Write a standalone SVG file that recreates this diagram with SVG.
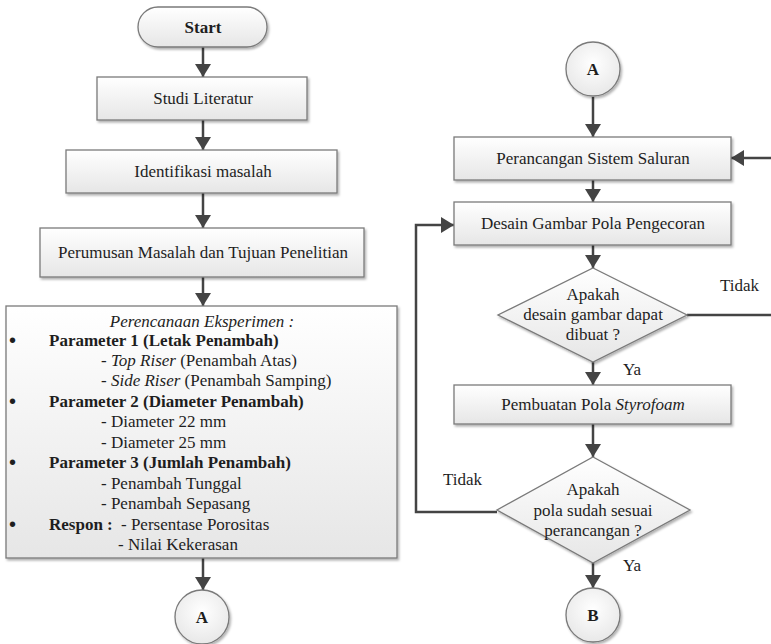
<svg xmlns="http://www.w3.org/2000/svg" width="771" height="644" viewBox="0 0 771 644">
<style>
.box{fill:url(#g);stroke:#7a7a7a;stroke-width:1.3;filter:url(#sh)}
.t{font-family:"Liberation Serif","DejaVu Serif","Times New Roman",serif;font-size:17px;fill:#1e1e1e}
.c{text-anchor:middle}
.b{font-weight:bold}
.i{font-style:italic}
.bu{font-family:"Liberation Sans",Arial,sans-serif;font-size:20px;fill:#1e1e1e}
.ln{fill:none;stroke:#444;stroke-width:2.5}
</style>
<defs>
<linearGradient id="g" x1="0" y1="0" x2="0" y2="1"><stop offset="0" stop-color="#ffffff"/><stop offset="1" stop-color="#e6e6e6"/></linearGradient>
<radialGradient id="rg" cx="0.5" cy="0.4" r="0.6"><stop offset="0" stop-color="#ffffff"/><stop offset="1" stop-color="#e8e8e8"/></radialGradient>
<filter id="sh" x="-10%" y="-10%" width="120%" height="130%"><feDropShadow dx="1.5" dy="2" stdDeviation="1.2" flood-color="#000" flood-opacity="0.3"/></filter>
<marker id="ah" markerUnits="userSpaceOnUse" markerWidth="16" markerHeight="18" refX="13" refY="8" orient="auto"><path d="M0,0 L13,8 L0,16 Z" fill="#444"/></marker>
</defs>

<g id="connectors">
<line class="ln" x1="203" y1="47" x2="203" y2="77" marker-end="url(#ah)"/>
<line class="ln" x1="203" y1="120" x2="203" y2="150" marker-end="url(#ah)"/>
<line class="ln" x1="203" y1="193" x2="203" y2="228" marker-end="url(#ah)"/>
<line class="ln" x1="203" y1="277" x2="203" y2="306" marker-end="url(#ah)"/>
<line class="ln" x1="203" y1="558" x2="203" y2="590" marker-end="url(#ah)"/>
<line class="ln" x1="593" y1="97" x2="593" y2="137" marker-end="url(#ah)"/>
<line class="ln" x1="593" y1="180" x2="593" y2="202" marker-end="url(#ah)"/>
<line class="ln" x1="593" y1="245" x2="593" y2="268" marker-end="url(#ah)"/>
<line class="ln" x1="593" y1="362" x2="593" y2="385" marker-end="url(#ah)"/>
<line class="ln" x1="593" y1="424" x2="593" y2="457" marker-end="url(#ah)"/>
<line class="ln" x1="593" y1="563" x2="593" y2="588" marker-end="url(#ah)"/>
<polyline class="ln" points="687,315 771,315"/>
<line class="ln" x1="771" y1="158" x2="731" y2="158" marker-end="url(#ah)"/>
<polyline class="ln" points="497,512 416,512 416,225 454,225" marker-end="url(#ah)"/>
<text class="t" x="720" y="291">Tidak</text>
<text class="t" x="623" y="375">Ya</text>
<text class="t" x="443" y="485">Tidak</text>
<text class="t" x="623" y="571">Ya</text>
</g>

<g id="start">
<rect class="box" x="138" y="7" width="129" height="40" rx="20"/>
<text class="t c b" x="203" y="33">Start</text>
</g>
<g id="studi">
<rect class="box" x="97" y="77" width="210" height="43"/>
<text class="t c" x="203" y="104">Studi Literatur</text>
</g>
<g id="identifikasi">
<rect class="box" x="66" y="150" width="271" height="43"/>
<text class="t c" x="203" y="177">Identifikasi masalah</text>
</g>
<g id="perumusan">
<rect class="box" x="40" y="228" width="324" height="49"/>
<text class="t c" x="203" y="258">Perumusan Masalah dan Tujuan Penelitian</text>
</g>
<g id="perencanaan">
<rect class="box" x="6" y="306" width="391" height="252"/>
<text class="t c i" x="202" y="327">Perencanaan Eksperimen :</text>
<text class="bu" x="9" y="347">•</text><text class="t b" x="49" y="346">Parameter 1 (Letak Penambah)</text>
<text class="t" x="101" y="366">-  <tspan class="i">Top Riser</tspan> (Penambah Atas)</text>
<text class="t" x="101" y="386">-  <tspan class="i">Side Riser</tspan> (Penambah Samping)</text>
<text class="bu" x="9" y="408">•</text><text class="t b" x="49" y="407">Parameter 2 (Diameter Penambah)</text>
<text class="t" x="101" y="427">- Diameter 22 mm</text>
<text class="t" x="101" y="448">- Diameter 25 mm</text>
<text class="bu" x="9" y="469">•</text><text class="t b" x="49" y="468">Parameter 3 (Jumlah Penambah)</text>
<text class="t" x="101" y="489">- Penambah Tunggal</text>
<text class="t" x="101" y="509">- Penambah Sepasang</text>
<text class="bu" x="9" y="531">•</text><text class="t b" x="49" y="530">Respon :</text><text class="t" x="121" y="530">- Persentase Porositas</text>
<text class="t" x="118" y="550">- Nilai Kekerasan</text>
</g>
<g id="connA1">
<circle cx="202" cy="617" r="27" fill="url(#rg)" stroke="#7a7a7a" stroke-width="1.3" filter="url(#sh)"/>
<text class="t c b" x="202" y="623">A</text>
</g>
<g id="connA2">
<circle cx="593" cy="69" r="27" fill="url(#rg)" stroke="#7a7a7a" stroke-width="1.3" filter="url(#sh)"/>
<text class="t c b" x="593" y="75">A</text>
</g>
<g id="saluran">
<rect class="box" x="454" y="137" width="277" height="43"/>
<text class="t c" x="593" y="164">Perancangan Sistem Saluran</text>
</g>
<g id="desain">
<rect class="box" x="454" y="202" width="277" height="43"/>
<text class="t c" x="593" y="229">Desain Gambar Pola Pengecoran</text>
</g>
<g id="dec1">
<polygon class="box" points="593,268 687,315 593,362 498,315"/>
<text class="t c" x="593" y="300">Apakah</text>
<text class="t c" x="593" y="320">desain gambar dapat</text>
<text class="t c" x="593" y="340">dibuat ?</text>
</g>
<g id="styrofoam">
<rect class="box" x="454" y="385" width="277" height="39"/>
<text class="t c" x="593" y="410">Pembuatan Pola <tspan class="i">Styrofoam</tspan></text>
</g>
<g id="dec2">
<polygon class="box" points="593,457 690,510 593,563 497,510"/>
<text class="t c" x="593" y="495">Apakah</text>
<text class="t c" x="593" y="516">pola sudah sesuai</text>
<text class="t c" x="593" y="536">perancangan ?</text>
</g>
<g id="connB">
<circle cx="593" cy="615" r="27" fill="url(#rg)" stroke="#7a7a7a" stroke-width="1.3" filter="url(#sh)"/>
<text class="t c b" x="593" y="621">B</text>
</g>
</svg>
